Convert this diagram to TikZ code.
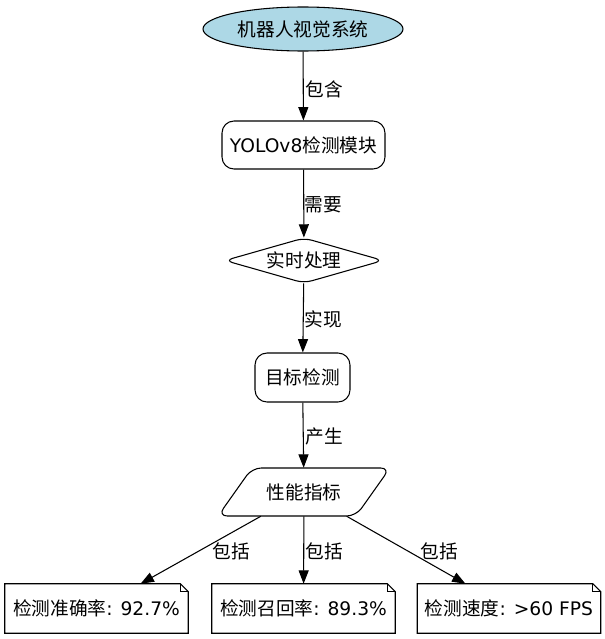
\documentclass[tikz,border=0pt]{standalone}
\usepackage{fontspec}
\setmainfont{DejaVu Sans}
\newfontfamily\cjkfont{Noto Sans CJK SC}
\newcommand\zhtext[1]{{\cjkfont #1}}
\usetikzlibrary{shapes.geometric,arrows.meta,calc}
\begin{document}
\begin{tikzpicture}[x=0.75pt,y=-0.75pt,
  font=\fontsize{14pt}{17pt}\selectfont,
  base/.style={draw=black,line width=0.8pt,inner sep=0pt,align=center},
  startnode/.style={base,ellipse,fill={rgb,255:red,173;green,216;blue,230},minimum width=150pt,minimum height=33pt},
  roundbox/.style={base,rectangle,rounded corners=9pt},
  ghost/.style={inner sep=0pt},
  notebox/.style={inner sep=0pt,minimum width=137.25pt,minimum height=36.75pt},
  conn/.style={line width=0.8pt,-{Triangle[length=10pt,width=7.5pt]}},
  lbl/.style={inner sep=0pt,anchor=west}
]
\useasboundingbox (0,0) rectangle (604,639);

\node[startnode] (sys) at (303,29) {\zhtext{机器人视觉系统}};
\node[roundbox,minimum width=122.25pt,minimum height=36pt] (yolo) at (303.5,145) {YOLOv8\zhtext{检测模块}};
\node[ghost,shape=diamond,minimum width=118.5pt,minimum height=34pt,shape aspect=3.4] (rt) at (304,260.5) {\zhtext{实时处理}};
\draw[line width=0.8pt,rounded corners=6pt]
  ($(rt.center)+(-79,0)$) -- ($(rt.center)+(0,-22.5)$) --
  ($(rt.center)+(79,0)$) -- ($(rt.center)+(0,22.5)$) -- cycle;
\node[roundbox,minimum width=71.25pt,minimum height=36.75pt] (det) at (302.5,377.5) {\zhtext{目标检测}};
\node[ghost,minimum width=129pt,minimum height=36pt] (perf) at (304,492) {\zhtext{性能指标}};
\draw[line width=0.8pt,rounded corners=7pt]
  ($(perf.center)+(-52,-24)$) -- ($(perf.center)+(86,-24)$) --
  ($(perf.center)+(52,24)$) -- ($(perf.center)+(-86,24)$) -- cycle;

\node[notebox] (n1) at (96.5,608.5) {\zhtext{检测准确率}: 92.7\%};
\node[notebox] (n2) at (303.5,608.5) {\zhtext{检测召回率}: 89.3\%};
\node[notebox] (n3) at (509,608.5) {\zhtext{检测速度}: >60 FPS};
\foreach \n in {n1,n2,n3}{
  \draw[line width=0.8pt] (\n.south west) -- (\n.south east) -- ([yshift=-6pt]\n.north east)
    -- ([xshift=-6pt]\n.north east) -- (\n.north west) -- cycle;
  \draw[line width=0.8pt] ([xshift=-6pt]\n.north east) -- ([xshift=-6pt,yshift=-6pt]\n.north east)
    -- ([yshift=-6pt]\n.north east);
}

\draw[conn] (sys) -- node[lbl,pos=0.55,xshift=1.5pt] {\zhtext{包含}} (yolo);
\draw[conn] (yolo) -- node[lbl,pos=0.52,xshift=0.5pt] {\zhtext{需要}} (rt);
\draw[conn] (rt) -- node[lbl,pos=0.52,xshift=0.5pt] {\zhtext{实现}} (det);
\draw[conn] (det) -- node[lbl,pos=0.52,xshift=1.5pt] {\zhtext{产生}} (perf);
\draw[conn] (perf) -- node[lbl,pos=0.52,xshift=10.5pt] {\zhtext{包括}} (n1);
\draw[conn] (perf) -- node[lbl,pos=0.52,xshift=1pt] {\zhtext{包括}} (n2);
\draw[conn] (perf) -- node[lbl,pos=0.52,xshift=9pt] {\zhtext{包括}} (n3);
\end{tikzpicture}
\end{document}
